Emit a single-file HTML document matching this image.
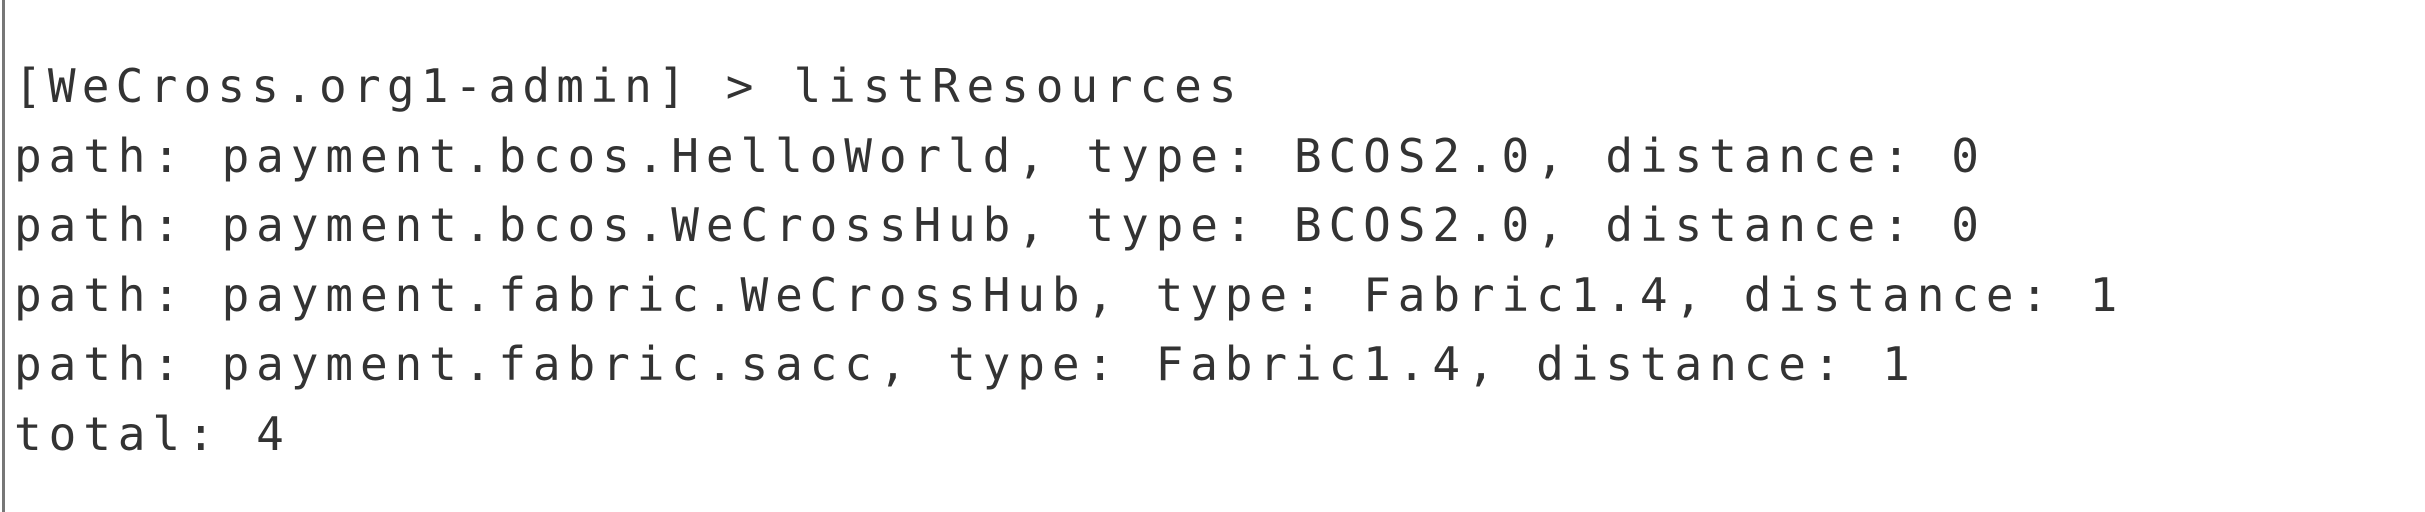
<!DOCTYPE html>
<html><head><meta charset="utf-8"><style>
html,body{margin:0;padding:0;background:#fff;}
body{width:2425px;height:512px;position:relative;overflow:hidden;}
.bar{position:absolute;left:2px;top:0;width:3px;height:512px;background:#777;}
.t{position:absolute;left:14px;top:52px;font-family:"DejaVu Sans Mono","Liberation Mono",monospace;font-size:46px;line-height:69.5px;letter-spacing:6.9px;color:#333;white-space:pre;}
.a{letter-spacing:6.2px;}
</style></head><body>
<div class="bar"></div>
<div class="t"><span class="a">[WeCross.org1-admin] &gt; </span>listResources
path: payment.bcos.HelloWorld, type: BCOS2.0, distance: 0
path: payment.bcos.WeCrossHub, type: BCOS2.0, distance: 0
path: payment.fabric.WeCrossHub, type: Fabric1.4, distance: 1
path: payment.fabric.sacc, type: Fabric1.4, distance: 1
total: 4</div>
</body></html>
